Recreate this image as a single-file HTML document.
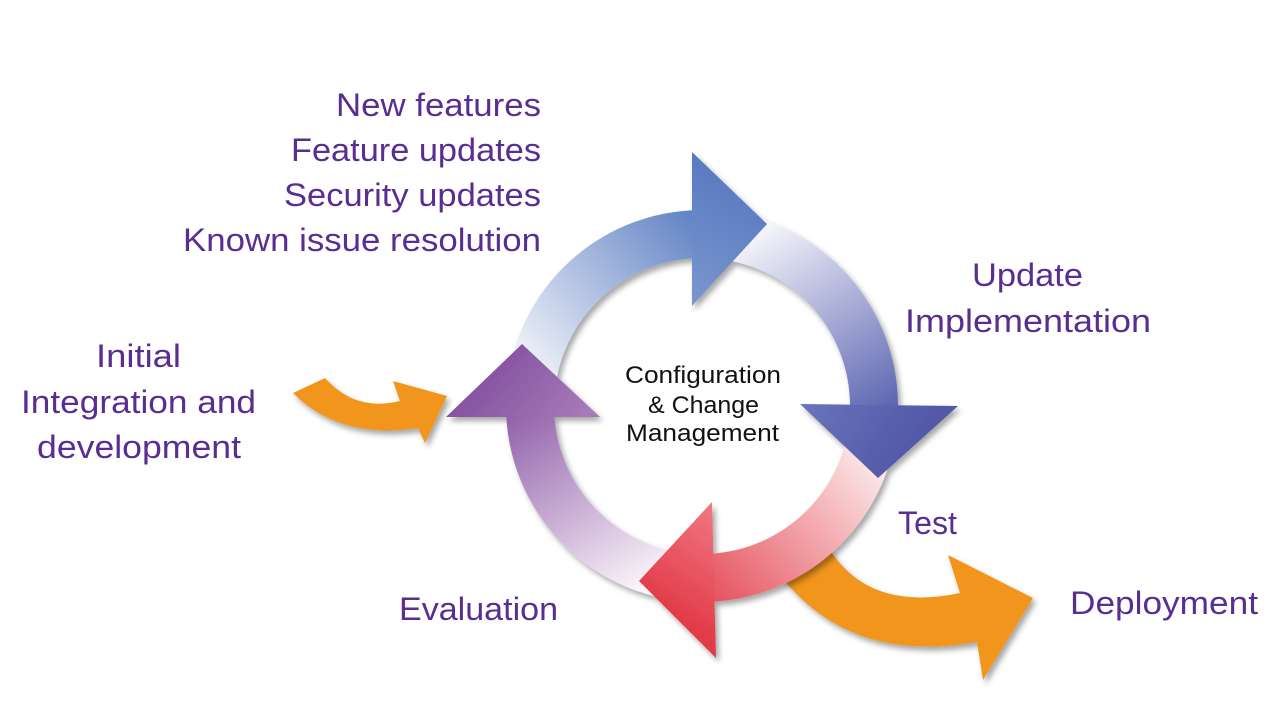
<!DOCTYPE html>
<html><head><meta charset="utf-8"><style>
html,body{margin:0;padding:0;background:#fff;}
svg{display:block;}
text{font-family:"Liberation Sans",sans-serif;}
</style></head><body>
<svg width="1280" height="721" viewBox="0 0 1280 721" xmlns="http://www.w3.org/2000/svg">
<defs>
<filter id="sh" x="-20%" y="-20%" width="140%" height="140%"><feDropShadow dx="3" dy="4" stdDeviation="3" flood-color="#000" flood-opacity="0.35"/></filter>
<linearGradient id="gB" gradientUnits="userSpaceOnUse" x1="540" y1="390" x2="720" y2="230"><stop offset="0" stop-color="#f4f5fa"/><stop offset="1" stop-color="#5b7ec3"/></linearGradient>
<linearGradient id="gR" gradientUnits="userSpaceOnUse" x1="760" y1="230" x2="880" y2="420"><stop offset="0" stop-color="#f5f5fb"/><stop offset="1" stop-color="#5a63b0"/></linearGradient>
<linearGradient id="gD" gradientUnits="userSpaceOnUse" x1="870" y1="440" x2="700" y2="590"><stop offset="0" stop-color="#fdf0f0"/><stop offset="1" stop-color="#e6505c"/></linearGradient>
<linearGradient id="gL" gradientUnits="userSpaceOnUse" x1="640" y1="590" x2="520" y2="400"><stop offset="0" stop-color="#fbf5fa"/><stop offset="1" stop-color="#8e5ca8"/></linearGradient>
<linearGradient id="hB" gradientUnits="userSpaceOnUse" x1="692" y1="305" x2="767" y2="180"><stop offset="0" stop-color="#7b97cf"/><stop offset="1" stop-color="#5577bf"/></linearGradient>
<linearGradient id="hR" gradientUnits="userSpaceOnUse" x1="800" y1="404" x2="900" y2="470"><stop offset="0" stop-color="#6a75bb"/><stop offset="1" stop-color="#5258a8"/></linearGradient>
<linearGradient id="hD" gradientUnits="userSpaceOnUse" x1="650" y1="600" x2="716" y2="502"><stop offset="0" stop-color="#e23a48"/><stop offset="1" stop-color="#f07b84"/></linearGradient>
<linearGradient id="hL" gradientUnits="userSpaceOnUse" x1="500" y1="350" x2="580" y2="418"><stop offset="0" stop-color="#8552a0"/><stop offset="1" stop-color="#a57ab8"/></linearGradient>
</defs>

<!-- orange arrows -->
<g fill="#f2951e" filter="url(#sh)">
<path d="M293,393 Q340,440 418,428 L425,443 L447,396 L393,381 L400,401 Q355,412 325,378 Z"/>
<path d="M780,575 Q850,665 977,642 L983,680 L1033,598 L948,555 L960,593 Q870,612 830,550 Z"/>
</g>

<!-- ring -->
<g filter="url(#sh)">
<path fill="url(#gB)" d="M506,406 A196,196 0 0 1 702,210 L702,258 A148,148 0 0 0 554,406 Z"/>
<path fill="url(#gR)" d="M702,210 A196,196 0 0 1 898,406 L850,406 A148,148 0 0 0 702,258 Z"/>
<path fill="url(#gD)" d="M898,406 A196,196 0 0 1 702,602 L702,554 A148,148 0 0 0 850,406 Z"/>
<path fill="url(#gL)" d="M702,602 A196,196 0 0 1 506,406 L554,406 A148,148 0 0 0 702,554 Z"/>
<polygon fill="url(#hB)" points="692,152 767,224 692,306"/>
<polygon fill="url(#hR)" points="800,404 958,406 878,478"/>
<polygon fill="url(#hD)" points="712,502 639,581 716,658"/>
<polygon fill="url(#hL)" points="446,417 522,344 600,417"/>
</g>

<g fill="#5a2d91" font-size="32">
<text x="541" y="116" text-anchor="end" textLength="205" lengthAdjust="spacingAndGlyphs">New features</text>
<text x="541" y="161" text-anchor="end" textLength="250" lengthAdjust="spacingAndGlyphs">Feature updates</text>
<text x="541" y="206" text-anchor="end" textLength="257" lengthAdjust="spacingAndGlyphs">Security updates</text>
<text x="541" y="251" text-anchor="end" textLength="358" lengthAdjust="spacingAndGlyphs">Known issue resolution</text>
<text x="972" y="286" textLength="111" lengthAdjust="spacingAndGlyphs">Update</text>
<text x="905" y="332" textLength="246" lengthAdjust="spacingAndGlyphs">Implementation</text>
<text x="96" y="367" textLength="85" lengthAdjust="spacingAndGlyphs">Initial</text>
<text x="21" y="413" textLength="235" lengthAdjust="spacingAndGlyphs">Integration and</text>
<text x="37" y="458" textLength="204" lengthAdjust="spacingAndGlyphs">development</text>
<text x="898" y="534" textLength="59" lengthAdjust="spacingAndGlyphs">Test</text>
<text x="399" y="620" textLength="159" lengthAdjust="spacingAndGlyphs">Evaluation</text>
<text x="1070" y="614" textLength="188" lengthAdjust="spacingAndGlyphs">Deployment</text>
</g>
<g fill="#111" font-size="24">
<text x="625" y="383" textLength="156" lengthAdjust="spacingAndGlyphs">Configuration</text>
<text x="648" y="413" textLength="111" lengthAdjust="spacingAndGlyphs">&amp; Change</text>
<text x="626" y="441" textLength="153" lengthAdjust="spacingAndGlyphs">Management</text>
</g>
</svg>
</body></html>
